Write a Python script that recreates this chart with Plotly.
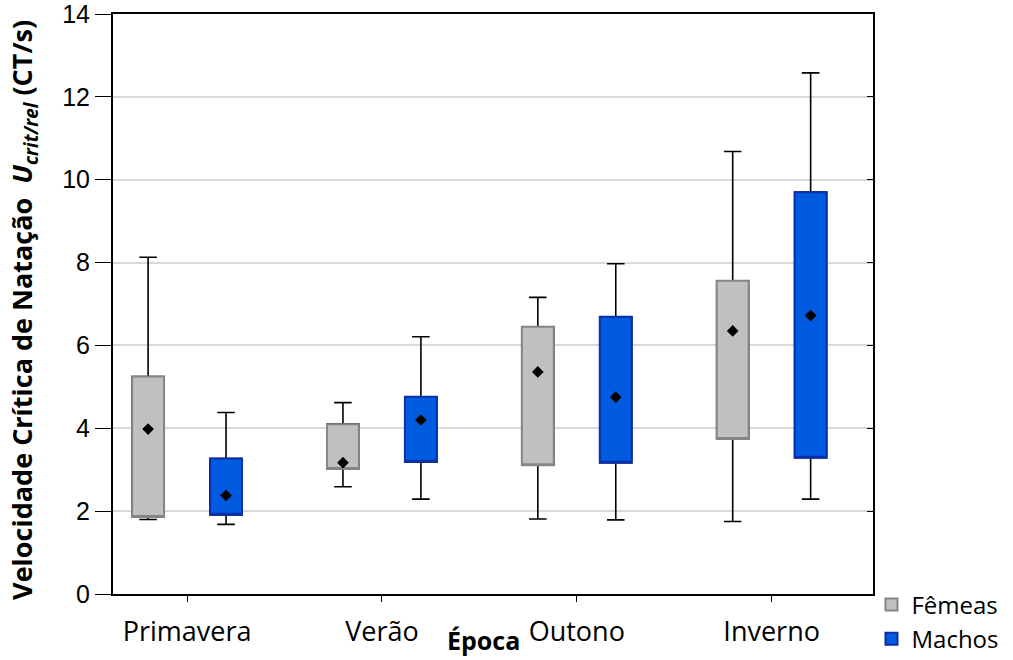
import plotly.graph_objects as go

categories = ["Primavera", "Verão", "Outono", "Inverno"]
series_names = ["Fêmeas", "Machos"]

# Fêmeas
f_min = [1.80, 2.59, 1.81, 1.75]
f_q1 = [1.86, 3.02, 3.11, 3.74]
f_mid = [3.98, 3.17, 5.36, 6.35]
f_q3 = [5.25, 4.10, 6.45, 7.56]
f_max = [8.13, 4.62, 7.16, 10.68]

# Machos
m_min = [1.68, 2.29, 1.79, 2.29]
m_q1 = [1.91, 3.19, 3.17, 3.29]
m_mid = [2.38, 4.20, 4.75, 6.72]
m_q3 = [3.27, 4.76, 6.69, 9.70]
m_max = [4.38, 6.21, 7.97, 12.58]

y_ticks = [0, 2, 4, 6, 8, 10, 12, 14]

OFFSET = 0.2
BOXW = 0.164
idx = list(range(len(categories)))

fig = go.Figure()

styles = [
    dict(fill="#c0c0c0", line="#858585"),
    dict(fill="#005be0", line="#0a2fa8"),
]
data = [
    (f_min, f_q1, f_mid, f_q3, f_max),
    (m_min, m_q1, m_mid, m_q3, m_max),
]

for s, (name, st, d) in enumerate(zip(series_names, styles, data)):
    lo, q1, mid, q3, hi = d
    xs = [i + (-OFFSET if s == 0 else OFFSET) for i in idx]
    # whiskers (black)
    fig.add_trace(go.Box(
        x=xs, q1=q1, median=q1, q3=q3, lowerfence=lo, upperfence=hi,
        width=BOXW, whiskerwidth=0.55, boxpoints=False,
        fillcolor="rgba(0,0,0,0)", line=dict(color="black", width=1.6),
        showlegend=False, hoverinfo="skip",
    ))
    # coloured box
    fig.add_trace(go.Box(
        x=xs, q1=q1, median=q1, q3=q3, lowerfence=q1, upperfence=q3,
        width=BOXW, whiskerwidth=0, boxpoints=False,
        fillcolor=st["fill"], line=dict(color=st["line"], width=2),
        name=name, showlegend=True,
    ))
    fig.add_trace(go.Scatter(
        x=xs, y=mid, mode="markers",
        marker=dict(symbol="diamond", size=9, color="black"),
        showlegend=False, hoverinfo="skip",
    ))

# invisible trace to anchor the right-hand tick axis
fig.add_trace(go.Scatter(x=[None], y=[None], yaxis="y2", showlegend=False, hoverinfo="skip"))

fig.update_layout(
    width=1013, height=660,
    margin=dict(l=113, r=140, t=14, b=66, autoexpand=False),
    plot_bgcolor="white", paper_bgcolor="white",
    boxmode="overlay",
    font=dict(family="Open Sans, Liberation Sans, sans-serif", color="black"),
    legend=dict(
        x=0.998, y=0.02, xanchor="left", yanchor="top",
        font=dict(size=24, family="Open Sans"),
        bgcolor="rgba(0,0,0,0)", tracegroupgap=0, itemwidth=30,
    ),
    xaxis=dict(
        range=[-0.38, 3.52], tickmode="array", tickvals=idx, ticktext=categories,
        showgrid=False, zeroline=False, showline=True, linecolor="black", linewidth=2,
        mirror=True, ticks="outside", ticklen=6, tickcolor="black", automargin=False,
        ticklabelstandoff=7, ticklabeloverflow="allow",
        tickfont=dict(size=27, family="Open Sans"),
    ),
    yaxis=dict(
        range=[0, 14], tickmode="array", tickvals=y_ticks,
        showgrid=True, gridcolor="#d9d9d9", gridwidth=1.5,
        zeroline=False, showline=True, linecolor="black", linewidth=2,
        mirror=True, ticks="outside", ticklen=16, tickcolor="black", automargin=False,
        ticklabeloverflow="allow",
        tickfont=dict(size=25, family="Liberation Sans"),
    ),
    yaxis2=dict(
        range=[0, 14], tickmode="array", tickvals=y_ticks, overlaying="y", side="right",
        showgrid=False, zeroline=False, showline=False, ticks="inside", ticklen=6,
        tickcolor="black", showticklabels=False, automargin=False,
    ),
    annotations=[
        dict(text="<b>Época</b>", xref="paper", yref="paper",
             x=0.487, y=-0.111, xanchor="center", yanchor="bottom", borderpad=0,
             showarrow=False, font=dict(size=25, family="Open Sans")),
        dict(text="<b>Velocidade Crítica de Natação  <i>U</i><sub><i>crit/rel</i></sub> (CT/s)</b>",
             xref="paper", yref="paper", x=-0.117, y=0.49, textangle=-90,
             xanchor="center", yanchor="middle", showarrow=False,
             font=dict(size=27, family="Open Sans")),
    ],
)

fig.write_html(
    "out.html",
    config={"displayModeBar": False},
    post_script="document.body.style.margin='0';document.body.style.overflow='hidden';",
)
